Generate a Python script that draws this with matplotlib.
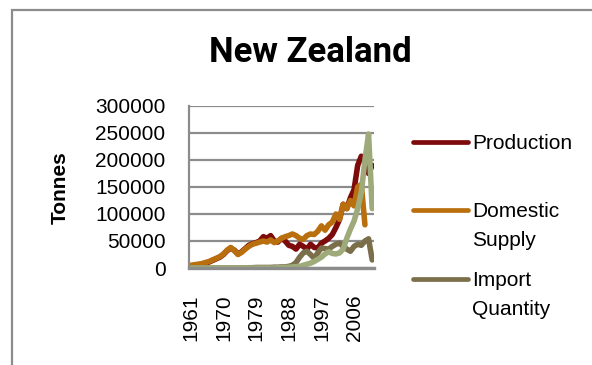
import numpy as np
import matplotlib

matplotlib.use('Agg')
import matplotlib.pyplot as plt
from matplotlib.lines import Line2D
from matplotlib.patches import Rectangle

years = list(range(1961, 2012))

production = [4000, 5000, 6000, 7000, 9000, 11000, 14000, 17000, 20000, 25000,
              32000, 37000, 33000, 26000, 30000, 36000, 42000, 45000, 47000, 50000,
              58000, 55000, 60000, 50000, 48000, 55000, 50000, 42000, 40000, 35000,
              44000, 40000, 35000, 44000, 38000, 37000, 46000, 50000, 55000, 62000,
              75000, 90000, 118000, 110000, 130000, 145000, 190000, 207000, 200000, 175000,
              190000]

domestic = [5000, 6000, 7000, 8000, 10000, 12000, 15000, 18000, 21000, 26000,
            33000, 38000, 32000, 25000, 29000, 35000, 40000, 44000, 46000, 48000,
            50000, 48000, 52000, 47000, 50000, 55000, 58000, 60000, 63000, 60000,
            55000, 53000, 60000, 63000, 62000, 68000, 78000, 70000, 80000, 85000,
            100000, 90000, 118000, 110000, 125000, 115000, 150000, 155000, 80000, np.nan,
            np.nan]

imports = [0, 0, 0, 0, 0, 0, 0, 0, 0, 0,
           0, 0, 0, 0, 0, 0, 500, 500, 1000, 1000,
           1000, 1000, 1000, 1500, 1500, 2000, 2000, 3000, 5000, 10000,
           20000, 28000, 31000, 25000, 18000, 28000, 37000, 36000, 35000, 40000,
           44000, 46000, 40000, 35000, 31000, 40000, 44000, 42000, 50000, 54000,
           15000]

exports = [0, 0, 0, 0, 0, 0, 0, 0, 0, 0,
           0, 0, 0, 0, 0, 0, 0, 0, 0, 0,
           0, 0, 0, 0, 500, 1000, 1000, 1500, 2000, 2500,
           3000, 5000, 7000, 9000, 12000, 16000, 20000, 26000, 30000, 27000,
           26000, 28000, 35000, 55000, 72000, 87000, 110000, 140000, 200000, 248000,
           110000]

series = [
    ("Production", production, "#7D0B0B"),
    ("Domestic\nSupply", domestic, "#BA6F0E"),
    ("Import\nQuantity", imports, "#7B6F4B"),
    ("Export\nQuantity", exports, "#9EAA79"),
]

plt.rcParams['font.family'] = ['Liberation Sans', 'DejaVu Sans']

W, H = 592, 365
fig = plt.figure(figsize=(W / 100, H / 100), dpi=100)
ax = fig.add_axes([189 / W, 1 - 268 / H, 185 / W, 162 / H])

# outer chart border (cropped on right and bottom)
fig.add_artist(Rectangle((12 / W, -0.1), 1.2, 1 - 10 / H + 0.1,
                         transform=fig.transFigure, fill=False,
                         edgecolor='#8c8c8c', linewidth=1.6))

x = np.arange(len(years))
for label, vals, color in series:
    ax.plot(x, vals, color=color, linewidth=4.0, solid_capstyle='round',
            solid_joinstyle='round')

ax.set_xlim(-0.5, len(years) - 0.5)
ax.set_ylim(0, 300000)
ax.set_yticks(np.arange(0, 300001, 50000))
ax.set_yticklabels([f"{v:d}" for v in range(0, 300001, 50000)], fontsize=15)
tick_idx = list(range(0, len(years), 9))
ax.set_xticks(tick_idx)
ax.set_xticklabels([str(years[i]) for i in tick_idx], rotation=90, fontsize=15)
ax.tick_params(axis='y', length=0, pad=17)
ax.tick_params(axis='x', length=0, pad=19)
ax.yaxis.grid(True, color='#8c8c8c', linewidth=1.6)
ax.set_axisbelow(True)
for s in ['top', 'right']:
    ax.spines[s].set_visible(False)
ax.spines['left'].set_color('#8c8c8c')
ax.spines['left'].set_linewidth(1.6)
ax.spines['bottom'].set_color('#8c8c8c')
ax.spines['bottom'].set_linewidth(2.4)

fig.text(60 / W, 1 - 188 / H, "Tonnes", rotation=90, fontsize=15,
         fontweight='bold', ha='center', va='center')
fig.text(310 / W, 1 - 52 / H, "New Zealand", fontsize=25, fontweight='bold',
         ha='center', va='center',
         family=['Roboto', 'Liberation Sans', 'DejaVu Sans'])

# legend (only first three entries fit on the canvas)
leg_y = [142, 210, 279]
for (label, vals, color), yy in zip(series[:3], leg_y):
    fig.add_artist(Line2D([413 / W, 468 / W], [1 - yy / H, 1 - yy / H],
                          transform=fig.transFigure, color=color,
                          linewidth=3.4, solid_capstyle='round'))
    fig.text(472 / W, 1 - (yy - 8) / H, label, fontsize=15, ha='left',
             va='top', linespacing=1.65)

fig.savefig("out.png", dpi=100)
